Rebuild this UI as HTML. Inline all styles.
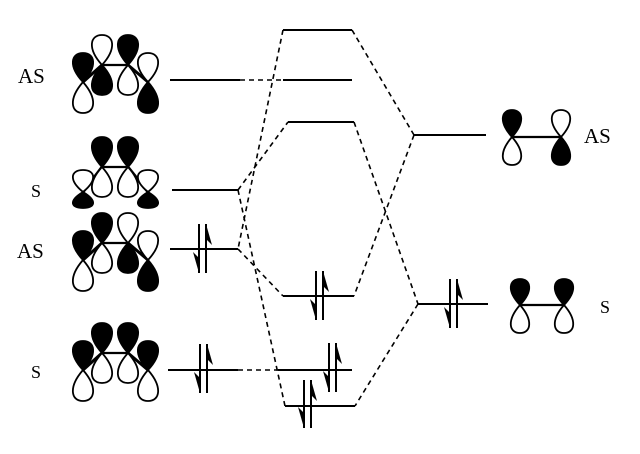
<!DOCTYPE html>
<html><head><meta charset="utf-8"><style>
html,body{margin:0;padding:0;background:#fff;}
svg{display:block;}
text{font-family:"Liberation Serif",serif;fill:#000;}
</style></head><body>
<svg id="s" width="640" height="454" viewBox="0 0 640 454" xmlns="http://www.w3.org/2000/svg">
<g id="lv" stroke="#000" stroke-width="2" fill="none">
<line x1="170" y1="80" x2="240" y2="80"/>
<line x1="172" y1="190" x2="238" y2="190"/>
<line x1="170" y1="249" x2="238" y2="249"/>
<line x1="168" y1="370" x2="238" y2="370"/>
<line x1="283" y1="30" x2="352" y2="30"/>
<line x1="283" y1="80" x2="352" y2="80"/>
<line x1="288" y1="122" x2="354" y2="122"/>
<line x1="283" y1="296" x2="354" y2="296"/>
<line x1="278" y1="370" x2="352" y2="370"/>
<line x1="285" y1="406" x2="355" y2="406"/>
<line x1="414" y1="135" x2="486" y2="135"/>
<line x1="418" y1="304" x2="488" y2="304"/>
</g>
<g stroke="#000" stroke-width="1.6" fill="none" stroke-dasharray="5,4">
<line x1="240" y1="80" x2="283" y2="80"/>
<line x1="238" y1="370" x2="278" y2="370"/>
<line x1="283" y1="30" x2="238" y2="249"/>
<line x1="238" y1="190" x2="285" y2="406"/>
<line x1="238" y1="190" x2="288" y2="122"/>
<line x1="238" y1="249" x2="283" y2="296"/>
<line x1="352" y1="30" x2="414" y2="135"/>
<line x1="354" y1="122" x2="418" y2="304"/>
<line x1="414" y1="135" x2="354" y2="296"/>
<line x1="418" y1="304" x2="355" y2="406"/>
</g>
<g id="orb"></g>
<g font-size="21">
<text x="18" y="83">AS</text>
<text x="31" y="197" font-size="18">S</text>
<text x="17" y="258">AS</text>
<text x="31" y="378" font-size="18">S</text>
<text x="584" y="143">AS</text>
<text x="600" y="313" font-size="18">S</text>
</g>
</svg>
<script>
var g=document.getElementById('orb'),h='';
function lobe(cx,ny,dir,H,W,fill){
 var t=ny-dir*H;
 return '<path d="M'+cx+' '+ny+' C'+(cx-W*1.35)+' '+(ny-dir*H*0.55)+','+(cx-W*1.1)+' '+t+','+cx+' '+t+' C'+(cx+W*1.1)+' '+t+','+(cx+W*1.35)+' '+(ny-dir*H*0.55)+','+cx+' '+ny+'Z" fill="'+(fill?'#000':'#fff')+'" stroke="#000" stroke-width="1.8"/>';
}
function porb(cx,ny,topFill,Ht,Hb,W){
 return lobe(cx,ny,1,Ht,W,topFill)+lobe(cx,ny,-1,Hb,W,!topFill);
}
function line(x1,y1,x2,y2,w){return '<line x1="'+x1+'" y1="'+y1+'" x2="'+x2+'" y2="'+y2+'" stroke="#000" stroke-width="'+(w||2)+'"/>';}
var mols=[[65,82,[1,0,1,0],29,31],[167,192,[0,1,1,0],22,16],[243,260,[1,1,0,0],29,31],[353,370,[1,1,1,1],29,31]];
mols.forEach(function(m){
 var iy=m[0],oy=m[1],p=m[2];
 h+=line(102,iy,128,iy,2.2)+line(102,iy,83,oy,3)+line(128,iy,148,oy,3);
 h+=porb(83,oy,p[0],m[3],m[4],11)+porb(148,oy,p[3],m[3],m[4],11);
 h+=porb(102,iy,p[1],30,30,11)+porb(128,iy,p[2],30,30,11);
});
h+=line(512,137,561,137,2.2)+porb(512,137,1,27,28,10)+porb(561,137,0,27,28,10);
h+=line(520,305,564,305,2.2)+porb(520,305,1,26,28,10)+porb(564,305,1,26,28,10);
function pair(xd,y1,y2){
 var xu=xd+7,s='';
 s+=line(xd,y1,xd,y2,2)+line(xu,y1,xu,y2,2);
 s+='<path d="M'+xd+' '+y2+' L'+(xd-6)+' '+(y2-21)+' L'+xd+' '+(y2-15)+'Z" fill="#000"/>';
 s+='<path d="M'+xu+' '+y1+' L'+(xu+6)+' '+(y1+21)+' L'+xu+' '+(y1+15)+'Z" fill="#000"/>';
 return s;
}
h+=pair(199,224,273)+pair(200,344,393)+pair(316,271,320)+pair(329,343,392)+pair(304,380,428)+pair(450,279,328);
g.innerHTML=h;
</script>
</body></html>
